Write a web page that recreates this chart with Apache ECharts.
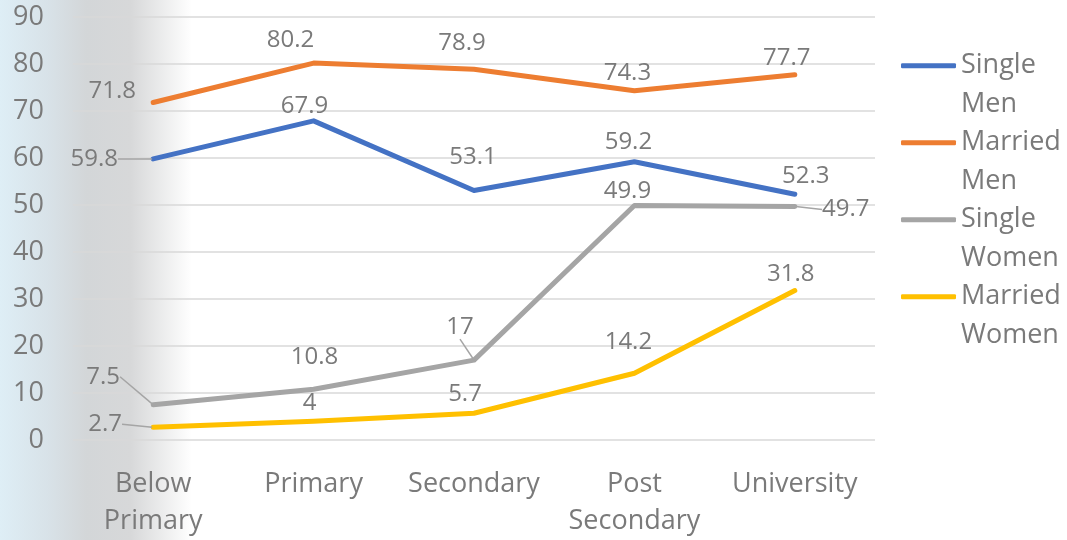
<!DOCTYPE html>
<html>
<head>
<meta charset="utf-8">
<script src="https://cdn.jsdelivr.net/npm/echarts@6/dist/echarts.min.js"></script>
<style>
  html, body { margin: 0; padding: 0; background: #fff; }
  #main { width: 1067px; height: 540px; }
</style>
</head>
<body>
<div id="main"></div>
<script>
// data
const categories = ['Below Primary', 'Primary', 'Secondary', 'Post Secondary', 'University']
const seriesNames = ['Single Men', 'Married Men', 'Single Women', 'Married Women']
const singleMen = [59.8, 67.9, 53.1, 59.2, 52.3]
const marriedMen = [71.8, 80.2, 78.9, 74.3, 77.7]
const singleWomen = [7.5, 10.8, 17, 49.9, 49.7]
const marriedWomen = [2.7, 4, 5.7, 14.2, 31.8]
const yMin = 0
const yMax = 90
const yStep = 10

const colors = ['#4472c4', '#ed7d31', '#a5a5a5', '#ffc000']
const textGray = '#7a7a7a'

// where each value label sits relative to its point (px)
const labelShift = [
  [[-59, 0], [-9, -15], [-1, -33], [-6, -20], [11, -18]],
  [[-41, -11], [-23, -23], [-12, -26], [-7, -18], [-8, -17]],
  [[-50, -28], [1, -32], [-14, -33], [-7, -14], [51, 3]],
  [[-48, -3], [-4, -18], [-9, -19], [-6, -31], [-4, -16]]
]
// labels drawn with a leader line
const leaders = [[0], [], [0, 2, 4], [0]]

const allValues = [singleMen, marriedMen, singleWomen, marriedWomen]

const chart = echarts.init(document.getElementById('main'), null, { renderer: 'canvas' })

const series = allValues.map((vals, si) => ({
  name: seriesNames[si],
  type: 'line',
  data: vals.map((v, i) => ({
    value: v,
    labelLine: { show: leaders[si].includes(i) }
  })),
  color: colors[si],
  symbol: 'circle',
  symbolSize: 2,
  showSymbol: true,
  lineStyle: { width: 5, color: colors[si], cap: 'round', join: 'round' },
  itemStyle: { color: colors[si] },
  label: {
    show: true,
    position: 'inside',
    color: textGray,
    fontSize: 24,
    fontFamily: 'Open Sans'
  },
  labelLine: {
    show: false,
    lineStyle: { color: '#a5a5a5', width: 1.5 }
  },
  labelLayout: (p) => {
    const s = labelShift[si][p.dataIndex]
    return { dx: s[0], dy: s[1] }
  },
  emphasis: { disabled: true },
  z: 3 + si
}))

const option = {
  animation: false,
  backgroundColor: '#ffffff',
  graphic: [{
    type: 'rect',
    z: -10,
    silent: true,
    shape: { x: 0, y: 0, width: 192, height: 540 },
    style: {
      fill: new echarts.graphic.LinearGradient(0, 0, 1, 0, [
        { offset: 0, color: '#deeef6' },
        { offset: 0.25, color: '#d8e2e8' },
        { offset: 0.45, color: '#d3d6d8' },
        { offset: 0.68, color: '#d7d8d9' },
        { offset: 1, color: '#ffffff' }
      ])
    }
  }],
  grid: { left: 73, right: 192, top: 17, bottom: 100 },
  legend: {
    orient: 'vertical',
    left: 901,
    top: 8,
    padding: 0,
    itemGap: -38.5,
    itemWidth: 55,
    itemHeight: 5,
    icon: 'roundRect',
    data: seriesNames,
    selectedMode: false,
    // blank first line keeps the marker level with the first word
    formatter: (name) => '\n' + name.replace(' ', '\n'),
    textStyle: {
      color: textGray,
      fontSize: 27,
      fontFamily: 'Open Sans',
      lineHeight: 38.5
    }
  },
  xAxis: {
    type: 'category',
    data: categories,
    boundaryGap: true,
    axisLine: { show: false },
    axisTick: { show: false },
    axisLabel: {
      color: textGray,
      fontSize: 27,
      fontFamily: 'Open Sans',
      lineHeight: 37,
      margin: 26,
      interval: 0,
      formatter: (v) => v.replace(' ', '\n')
    }
  },
  yAxis: {
    type: 'value',
    min: yMin,
    max: yMax,
    interval: yStep,
    axisLine: { show: false },
    axisTick: { show: false },
    axisLabel: {
      color: textGray,
      fontSize: 27,
      fontFamily: 'Open Sans',
      margin: 29
    },
    splitLine: { lineStyle: { color: '#d9d9d9', width: 1.5 } }
  },
  series: series
}

chart.setOption(option)
</script>
</body>
</html>
